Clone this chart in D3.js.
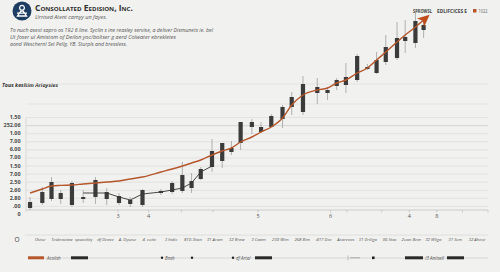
<!DOCTYPE html>
<html>
<head>
<meta charset="utf-8">
<script src="https://cdn.jsdelivr.net/npm/d3@7"></script>
<style>
body{margin:0;background:#f1f1ef;}
svg{display:block;font-family:"Open Sans",sans-serif;}
</style>
</head>
<body>
<svg id="chart" width="500" height="272"></svg>
<script>
"use strict";

// session positions of each candle
var days = [0.2,1.4,2.3,3.2,4.3,5.4,6.6,7.7,8.9,10,11.2,13,14.1,15.1,16,16.9,18,19,19.9,20.8,
    21.9,22.8,23.8,24.9,25.8,26.9,28.3,29.3,30.2,31.1,32.2,33.2,34.1,35,36.1,36.9,37.9,38.7];
var highs = [46.5,51.5,56.5,50,54.5,50,56.5,51,48.5,46.5,50.5,50.5,54.5,64,58.5,61.5,75.5,73.5,74.5,84,
    85.5,84,88,92.5,99,107,106,101.5,106,113.5,118,113,119,127.5,134,135,139,135];
var lows = [40,42.5,44.5,43,41.5,43.5,43,42.5,42.5,41.5,41.5,47.5,48,48.5,48.5,55,59,61,67.5,70,
    78,78.5,81.5,81,87.5,87.5,93,95,100,98.5,104,110,108,112.5,115,118.5,121,126];
var opens = [41,43.5,45.5,45.5,42.5,45.5,46.5,45.5,43.5,43,42.5,48.5,49,49.5,51,55.5,61.5,64.5,69,73.5,
    81.5,79,81.5,85.5,91.5,89,98.5,98.5,102,102.5,105,110.5,108.5,114,116,124.5,123.5,130];
var closes = [44,49,54,48.5,53.5,46.5,55,49,47,45,50,49.5,53.5,57.5,54.5,60.5,69.5,73.5,71,84,
    84,81.5,87,91.5,96.5,103,101.5,100,105,106.5,117,111.5,115,121.5,126,126.5,134.5,132.5];
// smoothed trend (orange)
var trend = [48.5,50.5,52,52.3,52.5,53,53.5,54,54.5,55.5,56.5,59,60.5,62,63.5,65,67.5,69.5,71,74,
    76.5,79,81.5,86,92.5,97.5,100,101,103.5,105,108.5,111,115,119,124,127.5,131.5,135];
// short black reference line
var refDays = [5.4,7.7,8.9,10,11.2,13,14.1,15.1,16,16.9,18];
var refVals = [48.5,48.5,46.5,45,48,49,50,51,53.5,59,62];

var yLabels = ["1.50","252.06","1.00","7.00","6.00","7.00","1.50","7.00","2.50","2.60","2.80",".00","0"];
var guideVals = [103, 93];
var xTickDays = [8.8, 11.8, 22.5, 29.6, 37.3, 40.0];
var xTickLabels = ["3","4","5","6","4","8"];
var xMinorDays = [15, 18.1, 31.2, 34.6, 42.5, 45];
var categories = ["Otese","Tesbroviaw","spsocitity","df Deave","A. Dysese","4. cuite","3 hidic","810.3tion",
    "31 Arom","32 Braw","3 Coam","230 Wim","268 Bim","417 Dee","Acorenes","31 Driligo","06 Stos",
    "2uon Bear","32 Wligo","31 Scm","32 Ahece"];

var svg = d3.select("#chart");
var orange = "#b5562b";

var x = d3.scaleLinear().domain([0, 45]).range([28, 488]);
var y = d3.scaleLinear().domain([40, 140]).range([210, 10]);
var yl = d3.scalePoint().domain(d3.range(yLabels.length)).range([117, 214]);

/* header */
var logo = svg.append("g").attr("transform", "translate(22,11)");
logo.append("circle").attr("r", 9.5).attr("fill", "#1e3d62");
logo.append("circle").attr("cy", -3.2).attr("r", 2.4).attr("fill", "none").attr("stroke", "#fff").attr("stroke-width", 1.3);
logo.append("path").attr("d", "M-4.5,5 L-1.2,0.2 L1.2,0.2 L4.5,5 Z M-5,2.2 L5,2.2").attr("fill", "none")
    .attr("stroke", "#fff").attr("stroke-width", 1.3);

svg.append("text").attr("x", 35).attr("y", 10.5).attr("font-size", 8.2).attr("font-weight", 700)
    .style("font-variant", "small-caps").attr("fill", "#2e2e2e")
    .attr("textLength", 98).attr("lengthAdjust", "spacingAndGlyphs")
    .text("Consollated Eedision, Inc.");
svg.append("text").attr("x", 35).attr("y", 18.5).attr("font-size", 5).attr("font-style", "italic")
    .attr("fill", "#555").attr("textLength", 72).attr("lengthAdjust", "spacingAndGlyphs")
    .text("Urrised Atent camyy un fayes.");

var para = [
    ["To nuch asext sapro os 192 6 line. Syclin s ine reasley servise, a deliver Dismunets ie. bel", 203],
    ["Ut foser ul Amistom of Deilon yoc/boltser g aerd Colwater ebrekletes", 166],
    ["aond Weschernl Set Pellg. YB. Sturpls and bressless.", 117]
];
para.forEach(function(p, i){
    svg.append("text").attr("x", 10).attr("y", 32 + i * 7).attr("font-size", 5.3).attr("font-style", "italic")
        .attr("fill", "#555").attr("textLength", p[1]).attr("lengthAdjust", "spacingAndGlyphs").text(p[0]);
});

svg.append("text").attr("x", 2).attr("y", 86.5).attr("font-size", 6).attr("font-style", "italic")
    .attr("font-weight", 700).attr("fill", "#333").attr("textLength", 56).attr("lengthAdjust", "spacingAndGlyphs")
    .text("Tous kesltim Ariaysies");

// top-right legend
svg.append("text").attr("x", 413).attr("y", 12.5).attr("font-size", 4.6).attr("font-weight", 700)
    .attr("fill", "#444").attr("textLength", 19).attr("lengthAdjust", "spacingAndGlyphs").text("SPROWSL");
svg.append("text").attr("x", 437).attr("y", 12.5).attr("font-size", 4.6).attr("font-weight", 700)
    .attr("fill", "#444").attr("textLength", 30).attr("lengthAdjust", "spacingAndGlyphs").text("EDLIFCICES E");
svg.append("rect").attr("x", 473).attr("y", 9).attr("width", 3.5).attr("height", 3.5).attr("fill", orange);
svg.append("text").attr("x", 478.5).attr("y", 12.5).attr("font-size", 4.6).attr("fill", "#666")
    .attr("textLength", 9).attr("lengthAdjust", "spacingAndGlyphs").text("1022");

/* grid */
var grid = svg.append("g");
grid.selectAll("line.g").data(d3.range(yLabels.length - 1)).join("line")
    .attr("x1", 26).attr("x2", 488)
    .attr("y1", function(d){ return yl(d) + 0.5; }).attr("y2", function(d){ return yl(d) + 0.5; })
    .attr("stroke", function(d){ return d === 1 ? "#cfcfcf" : "#dedede"; }).attr("stroke-width", 0.8);
grid.selectAll("line.u").data(guideVals).join("line")
    .attr("x1", 26).attr("x2", 488)
    .attr("y1", function(d){ return y(d); }).attr("y2", function(d){ return y(d); })
    .attr("stroke", "#e1e1e1").attr("stroke-width", 0.8);
grid.append("line").attr("x1", 26).attr("x2", 26).attr("y1", 118).attr("y2", 212)
    .attr("stroke", "#d4d4d4").attr("stroke-width", 0.8);

// y labels
svg.append("g").selectAll("text").data(yLabels).join("text")
    .attr("x", 20.5).attr("y", function(d, i){ return yl(i) + 2; })
    .attr("text-anchor", "end").attr("font-size", 5.4).attr("font-weight", 700).attr("fill", "#4a4a4a")
    .text(function(d){ return d; });

// x axis
var xAxis = svg.append("g").attr("transform", "translate(0,210)");
xAxis.append("line").attr("x1", 26).attr("x2", 488).attr("stroke", "#c8c8c8").attr("stroke-width", 0.9);
xAxis.selectAll("line.t").data(xTickDays.concat(xMinorDays)).join("line")
    .attr("x1", function(d){ return x(d); }).attr("x2", function(d){ return x(d); })
    .attr("y1", 0).attr("y2", 2.5).attr("stroke", "#bdbdbd").attr("stroke-width", 0.7);
xAxis.selectAll("text").data(xTickLabels).join("text")
    .attr("x", function(d, i){ return x(xTickDays[i]); }).attr("y", 8)
    .attr("text-anchor", "middle").attr("font-size", 5.5).attr("fill", "#555")
    .text(function(d){ return d; });

/* candles */
var candles = svg.append("g").selectAll("g").data(days).join("g");
candles.append("line")
    .attr("x1", function(d){ return x(d); }).attr("x2", function(d){ return x(d); })
    .attr("y1", function(d, i){ return y(highs[i]); }).attr("y2", function(d, i){ return y(lows[i]); })
    .attr("stroke", "#a9a9a9").attr("stroke-width", 0.9);
candles.append("rect")
    .attr("x", function(d){ return x(d) - 2.1; }).attr("width", 4.2)
    .attr("y", function(d, i){ return y(Math.max(opens[i], closes[i])); })
    .attr("height", function(d, i){ return Math.max(1.5, Math.abs(y(opens[i]) - y(closes[i]))); })
    .attr("fill", "#3b3b3b");

// black reference line
svg.append("path").datum(d3.zip(refDays, refVals))
    .attr("d", d3.line().x(function(d){ return x(d[0]); }).y(function(d){ return y(d[1]); }))
    .attr("fill", "none").attr("stroke", "#333").attr("stroke-width", 0.9);

// orange trend with arrow head
svg.append("defs").append("marker").attr("id", "head")
    .attr("viewBox", "-3 -6 14 12").attr("refX", 2).attr("refY", 0)
    .attr("markerWidth", 14).attr("markerHeight", 12).attr("markerUnits", "userSpaceOnUse")
    .attr("orient", "auto")
    .append("path").attr("d", "M-2,-5.5 L10,0 L-2,5.5 L1,0 Z").attr("fill", "#c04e1c");
svg.append("path").datum(d3.zip(days, trend))
    .attr("d", d3.line().curve(d3.curveMonotoneX).x(function(d){ return x(d[0]); }).y(function(d){ return y(d[1]); }))
    .attr("fill", "none").attr("stroke", orange).attr("stroke-width", 1.4)
    .attr("marker-end", "url(#head)");

/* bottom category row */
svg.append("line").attr("x1", 25).attr("x2", 488).attr("y1", 235).attr("y2", 235)
    .attr("stroke", "#dadada").attr("stroke-width", 0.8);
svg.append("text").attr("x", 17).attr("y", 242).attr("text-anchor", "middle").attr("font-size", 6.5)
    .attr("fill", "#444").text("O");
var cx = d3.scalePoint().domain(categories).range([40, 477]);
svg.append("g").selectAll("text").data(categories).join("text")
    .attr("x", function(d){ return cx(d); }).attr("y", 241)
    .attr("text-anchor", "middle").attr("font-size", 4.3).attr("font-style", "italic").attr("fill", "#555")
    .text(function(d){ return d; });

/* bottom legend strip */
var leg = svg.append("g");
leg.append("line").attr("x1", 28).attr("x2", 488).attr("y1", 258).attr("y2", 258)
    .attr("stroke", "#d2d2d2").attr("stroke-width", 0.8);
[[28, 44, orange], [71, 88, "#2a2a2a"], [255, 272, "#2a2a2a"], [405, 423, "#2a2a2a"], [447, 464, "#2a2a2a"]]
    .forEach(function(b){
        leg.append("rect").attr("x", b[0]).attr("y", 256.3).attr("width", b[1] - b[0]).attr("height", 3)
            .attr("fill", b[2]);
    });
[[162, "Bnsh"], [192, ""], [233, "df Artal"]].forEach(function(p){
    leg.append("circle").attr("cx", p[0]).attr("cy", 257.8).attr("r", 1.2).attr("fill", "#222");
    if (p[1]) leg.append("text").attr("x", p[0] + 3).attr("y", 259.5).attr("font-size", 4.4)
        .attr("font-style", "italic").attr("fill", "#555").text(p[1]);
});
leg.append("rect").attr("x", 372).attr("y", 256.5).attr("width", 2.6).attr("height", 2.6).attr("fill", "#222");
leg.append("line").attr("x1", 348).attr("x2", 348).attr("y1", 255.5).attr("y2", 260.5).attr("stroke", "#aaa").attr("stroke-width", 0.7);
leg.append("line").attr("x1", 350).attr("x2", 360).attr("y1", 257.8).attr("y2", 257.8).attr("stroke", "#999").attr("stroke-width", 0.8);
leg.append("text").attr("x", 47).attr("y", 259.5).attr("font-size", 4.4).attr("font-style", "italic")
    .attr("fill", "#555").text("Acolish");
leg.append("text").attr("x", 425).attr("y", 259.5).attr("font-size", 4.4).attr("font-style", "italic")
    .attr("fill", "#555").text("/3 Anitsell");
</script>
</body>
</html>
